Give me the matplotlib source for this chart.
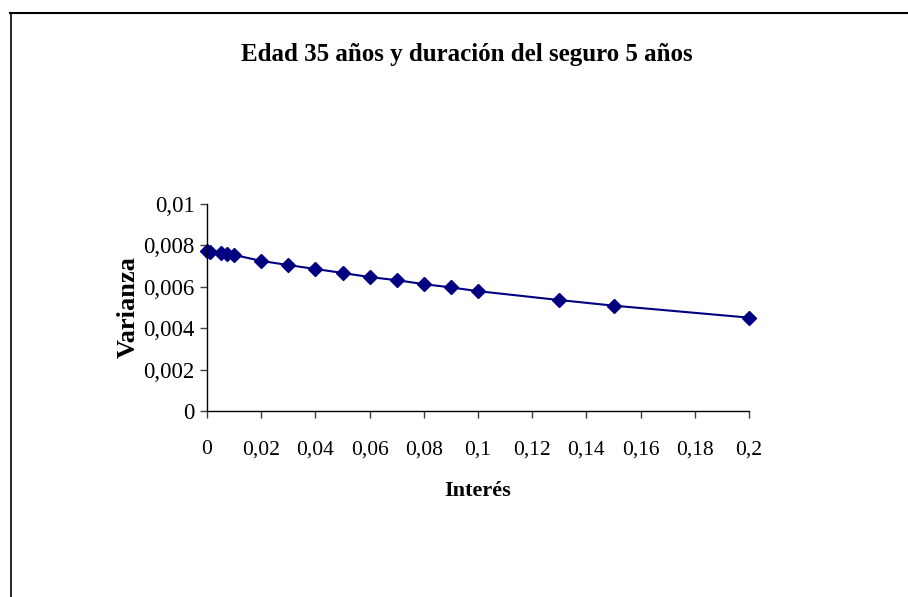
import matplotlib.pyplot as plt
from matplotlib.lines import Line2D

# interest rate vs variance, age 35, 5-year term
interes = [0, 0.001, 0.005, 0.0075, 0.01, 0.02, 0.03, 0.04, 0.05, 0.06,
           0.07, 0.08, 0.09, 0.1, 0.13, 0.15, 0.2]
varianza = [0.00773, 0.00770, 0.00763, 0.00758, 0.00754, 0.00725, 0.00705,
            0.00686, 0.00667, 0.00647, 0.00632, 0.00613, 0.00597, 0.00579,
            0.00536, 0.00509, 0.00451]
xticks = [0, 0.02, 0.04, 0.06, 0.08, 0.1, 0.12, 0.14, 0.16, 0.18, 0.2]
yticks = [0, 0.002, 0.004, 0.006, 0.008, 0.01]

plt.rcParams['font.family'] = ['Liberation Serif', 'DejaVu Serif']

fig = plt.figure(figsize=(9.08, 5.97), dpi=100)
ax = fig.add_axes([207/908, 1 - 411/597, (749 - 207)/908, (411 - 204)/597])

ax.plot(interes, varianza, color='#000080', lw=1.5, marker='D', ms=7,
        markerfacecolor='#000080', markeredgecolor='#000080', clip_on=False)

ax.set_xlim(0, 0.2)
ax.set_ylim(0, 0.01)
ax.set_xticks(xticks)
ax.set_yticks(yticks)
ax.set_xticklabels([('%g' % v).replace('.', ',') for v in xticks])
ax.set_yticklabels([('%g' % v).replace('.', ',') for v in yticks])
ax.tick_params(direction='out', length=5, width=1, colors='#404040',
               labelcolor='black')
ax.tick_params(axis='x', labelsize=15.5, pad=16)
ax.tick_params(axis='y', labelsize=16.5, pad=4)
for s in ['top', 'right']:
    ax.spines[s].set_visible(False)
for s in ['left', 'bottom']:
    ax.spines[s].set_linewidth(1)
    ax.spines[s].set_color('black')

ax.set_xlabel('Interés', fontsize=16, fontweight='bold', labelpad=16)
ax.set_ylabel('Varianza', fontsize=19, fontweight='bold')
ax.yaxis.set_label_coords(-0.124, 0.5)

fig.text(467/908, 1 - 55/597, 'Edad 35 años y duración del seguro 5 años',
         ha='center', va='center', fontsize=18, fontweight='bold')

# chart area border (top and left edges)
fig.add_artist(Line2D([10/908, 1.01], [1 - 12.5/597] * 2, color='black', lw=1.5,
                      transform=fig.transFigure))
fig.add_artist(Line2D([10.5/908] * 2, [-0.01, 1 - 12.5/597], color='black', lw=1.2,
                      transform=fig.transFigure))

fig.savefig('out.png', dpi=100)
